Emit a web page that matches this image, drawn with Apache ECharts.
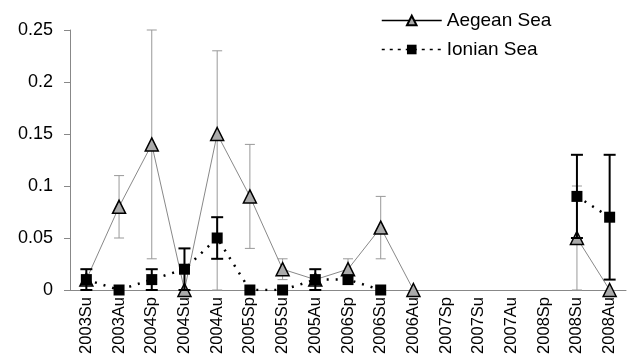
<!DOCTYPE html>
<html>
<head>
<meta charset="utf-8">
<script src="https://cdn.jsdelivr.net/npm/echarts@6/dist/echarts.min.js"></script>
<style>
html, body { margin: 0; padding: 0; background: #fff; }
#chart { width: 627px; height: 360px; }
</style>
</head>
<body>
<div id="chart"></div>
<script>
var seasons = ['2003Su', '2003Au', '2004Sp', '2004Su', '2004Au', '2005Sp', '2005Su', '2005Au', '2006Sp',
    '2006Su', '2006Au', '2007Sp', '2007Su', '2007Au', '2008Sp', '2008Su', '2008Au']

// Aegean Sea
var aegean = [0.01, 0.08, 0.14, 0, 0.15, 0.09, 0.02, 0.01, 0.02, 0.06, 0, null, null, null, null, 0.05, 0]
var aegeanLow = [0, 0.05, 0.03, null, 0, 0.04, 0.01, null, 0.01, 0.03, null, null, null, null, null, 0, null]
var aegeanHigh = [0.02, 0.11, 0.25, null, 0.23, 0.14, 0.03, null, 0.03, 0.09, null, null, null, null, null, 0.10, null]

// Ionian Sea
var ionian = [0.01, 0, 0.01, 0.02, 0.05, 0, 0, 0.01, 0.01, 0, null, null, null, null, null, 0.09, 0.07]
var ionianLow = [0, null, 0, 0, 0.03, null, null, 0, null, null, null, null, null, null, null, 0.05, 0.01]
var ionianHigh = [0.02, null, 0.02, 0.04, 0.07, null, null, 0.02, null, null, null, null, null, null, null, 0.13, 0.13]

var yTicks = [0, 0.05, 0.1, 0.15, 0.2, 0.25]

function errData(low, high) {
    var out = []
    for (var i = 0; i < low.length; i++) {
        if (low[i] != null && high[i] != null) out.push([i, low[i], high[i]])
    }
    return out
}

function errRender(color, width, cap) {
    return function (params, api) {
        var x = api.value(0)
        var a = api.coord([x, api.value(1)])
        var b = api.coord([x, api.value(2)])
        var st = { stroke: color, lineWidth: width }
        return {
            type: 'group',
            children: [
                { type: 'line', shape: { x1: a[0], y1: a[1], x2: b[0], y2: b[1] }, style: st },
                { type: 'line', shape: { x1: a[0] - cap, y1: a[1], x2: a[0] + cap, y2: a[1] }, style: st },
                { type: 'line', shape: { x1: b[0] - cap, y1: b[1], x2: b[0] + cap, y2: b[1] }, style: st }
            ]
        }
    }
}

var myChart = echarts.init(document.getElementById('chart'))
myChart.setOption({
    animation: false,
    textStyle: { fontFamily: 'Liberation Sans, Arial, sans-serif' },
    grid: { left: 70, right: 1, top: 30, bottom: 70 },
    legend: {
        orient: 'vertical',
        left: 376,
        top: 6,
        itemWidth: 60,
        itemHeight: 12,
        itemGap: 10,
        textStyle: { fontSize: 19, color: '#000' },
        data: [
            { name: 'Aegean Sea', lineStyle: { color: '#000', width: 1.5 } },
            { name: 'Ionian Sea', lineStyle: { width: 1.5, type: [3, 5] } }
        ]
    },
    xAxis: {
        type: 'category',
        data: seasons,
        boundaryGap: true,
        axisLine: { lineStyle: { color: '#888' } },
        axisTick: { alignWithLabel: false, length: 5, lineStyle: { color: '#888' } },
        axisLabel: { rotate: 90, interval: 0, fontSize: 16.5, color: '#000', margin: 7 }
    },
    yAxis: {
        type: 'value',
        min: 0,
        max: 0.25,
        interval: 0.05,
        splitLine: { show: false },
        axisLine: { show: true, lineStyle: { color: '#888' } },
        axisTick: { show: true, length: 6, lineStyle: { color: '#888' } },
        axisLabel: {
            fontSize: 18, color: '#000', margin: 17,
            formatter: function (v) { return yTicks.indexOf(Math.round(v * 100) / 100) >= 0 ? String(Math.round(v * 100) / 100) : '' }
        }
    },
    series: [
        {
            type: 'custom',
            name: 'aegErr',
            renderItem: errRender('#999', 1, 5),
            data: errData(aegeanLow, aegeanHigh),
            encode: { x: 0, y: [1, 2] },
            z: 1
        },
        {
            name: 'Aegean Sea',
            type: 'line',
            data: aegean,
            connectNulls: false,
            symbol: 'triangle',
            symbolSize: 13,
            lineStyle: { color: '#888', width: 1 },
            itemStyle: { color: '#aaa', borderColor: '#000', borderWidth: 1.5 },
            z: 2
        },
        {
            type: 'custom',
            name: 'ionErr',
            renderItem: errRender('#000', 2, 6),
            data: errData(ionianLow, ionianHigh),
            encode: { x: 0, y: [1, 2] },
            z: 3
        },
        {
            name: 'Ionian Sea',
            type: 'line',
            data: ionian,
            connectNulls: false,
            symbol: 'rect',
            symbolSize: 11,
            lineStyle: { color: '#000', width: 2.5, type: [2, 7] },
            itemStyle: { color: '#000' },
            z: 4
        }
    ]
})
</script>
</body>
</html>
